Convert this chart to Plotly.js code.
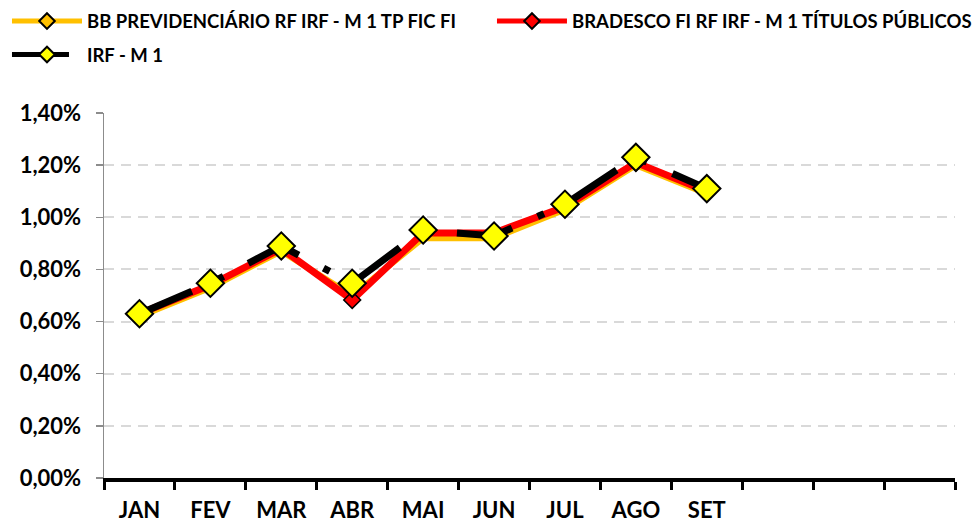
<!DOCTYPE html>
<html>
<head>
<meta charset="utf-8">
<script src="https://cdn.plot.ly/plotly-3.0.1.min.js"></script>
<style>html,body{margin:0;padding:0;background:#fff;}#chart{width:975px;height:522px;}</style>
</head>
<body>
<div id="chart"></div>
<script>
var months = ["JAN","FEV","MAR","ABR","MAI","JUN","JUL","AGO","SET","OUT","NOV","DEZ"];
var tickLabels = ["JAN","FEV","MAR","ABR","MAI","JUN","JUL","AGO","SET","","",""];
var dataMonths = ["JAN","FEV","MAR","ABR","MAI","JUN","JUL","AGO","SET"];
var bbValues = [0.0062, 0.0073, 0.0087, 0.0070, 0.0092, 0.0092, 0.0103, 0.0120, 0.0109];
var bradescoValues = [0.0063, 0.0074, 0.0088, 0.00683, 0.0094, 0.0094, 0.0104, 0.0121, 0.0110];
var irfValues = [0.0063, 0.00747, 0.0089, 0.00747, 0.00951, 0.00928, 0.0105, 0.0123, 0.0111];
var names = ["BB PREVIDENCIÁRIO RF IRF - M 1 TP FIC FI", "BRADESCO FI RF IRF - M 1 TÍTULOS PÚBLICOS", "IRF - M 1"];

var font = "Lato, 'Liberation Sans', Arial, sans-serif";

var traces = [
  {x: dataMonths, y: bbValues, name: names[0], mode: "lines+markers", type: "scatter", legend: "legend",
   line: {color: "#FFC000", width: 6},
   marker: {symbol: "diamond", size: 8, color: "#FFC000", line: {color: "#000", width: 1.5}}},
  {x: dataMonths, y: bradescoValues, name: names[1], mode: "lines+markers", type: "scatter", legend: "legend3",
   line: {color: "#FF0000", width: 7},
   marker: {symbol: "diamond", size: 13, color: "#FF0000", line: {color: "#000", width: 1.5}}},
  {x: dataMonths, y: irfValues, name: names[2], mode: "lines+markers", type: "scatter", legend: "legend2",
   line: {color: "#000000", width: 7, dash: "57px,28px,7px,28px"},
   marker: {symbol: "diamond", size: 21, color: "#FFFF00", line: {color: "#000", width: 2}}}
];

var legendFont = {family: font, size: 18.5, color: "#000", weight: "bold"};
function legendAt(x, y) {
  return {orientation: "v", x: x, y: y, xref: "paper", yref: "paper", xanchor: "left", yanchor: "top",
    font: legendFont, itemwidth: 70, itemsizing: "constant", bgcolor: "rgba(0,0,0,0)", borderwidth: 0};
}
var layout = {
  width: 975, height: 522,
  margin: {l: 104, r: 20, t: 113, b: 44, autoexpand: false},
  paper_bgcolor: "#fff", plot_bgcolor: "#fff",
  separators: ",.",
  font: {family: font, size: 17, color: "#000"},
  showlegend: true,
  legend: legendAt(-0.114, 1.3027),
  legend3: legendAt(0.4559, 1.3027),
  legend2: legendAt(-0.114, 1.211),
  xaxis: {type: "category", categoryorder: "array", categoryarray: months,
    tickmode: "array", tickvals: months, ticktext: tickLabels,
    range: [-0.5, 11.5], tickson: "boundaries", ticks: "outside", ticklen: 8, tickwidth: 3, tickcolor: "#000",
    showline: true, linecolor: "#000", linewidth: 4, showgrid: false, zeroline: false,
    ticklabelstandoff: 10,
    tickfont: {family: font, size: 22, color: "#000", weight: "bold"}},
  yaxis: {range: [0, 0.014], dtick: 0.002, tick0: 0, tickformat: ".2%",
    showline: true, linecolor: "#8c8c8c", linewidth: 1.5, ticks: "outside", ticklen: 7, tickcolor: "#8c8c8c", tickwidth: 1.5,
    showgrid: true, gridcolor: "#d9d9d9", gridwidth: 2, griddash: "10px,7px", zeroline: false,
    ticklabelstandoff: 10,
    tickfont: {family: font, size: 22, color: "#000", weight: "bold"}}
};

Plotly.newPlot("chart", traces, layout, {displayModeBar: false, staticPlot: true});
</script>
</body>
</html>
